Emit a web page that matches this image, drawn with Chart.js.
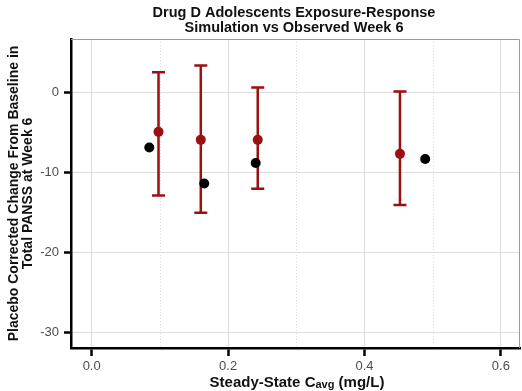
<!DOCTYPE html>
<html>
<head>
<meta charset="utf-8">
<script src="https://cdn.jsdelivr.net/npm/chart.js@4.4.1/dist/chart.umd.min.js"></script>
<style>
  html, body { margin: 0; padding: 0; background: #ffffff; }
  #wrap { width: 522px; height: 391px; position: relative; }
</style>
</head>
<body>
<div id="wrap"><canvas id="c" width="522" height="391"></canvas></div>
<script>
// ---- Data ----
const titleLines = ["Drug D Adolescents Exposure-Response", "Simulation vs Observed Week 6"];
const yTitleLines = ["Placebo Corrected Change From Baseline in", "Total PANSS at Week 6"];
const xTitleMain = "Steady-State C";
const xTitleSub = "avg";
const xTitleUnit = " (mg/L)";

// Simulated (red): median with interval
const simX = [0.098, 0.160, 0.2435, 0.452];
const simMedian = [-4.9, -5.9, -5.9, -7.65];
const simLower = [-12.85, -15.0, -12.0, -14.05];
const simUpper = [2.55, 3.4, 0.65, 0.15];

// Observed (black)
const obsX = [0.0845, 0.165, 0.2405, 0.489];
const obsY = [-6.85, -11.35, -8.8, -8.3];

// Ticks
const xMajorTicks = [0.0, 0.2, 0.4, 0.6];
const xMinorTicks = [0.1, 0.3, 0.5];
const yMajorTicks = [-30, -20, -10, 0];

const RED = '#9b1111';
const FONT = '"Liberation Sans", Arial, sans-serif';

const simPoints = simX.map((x, i) => ({ x: x, y: simMedian[i] }));
const obsPoints = obsX.map((x, i) => ({ x: x, y: obsY[i] }));

const frameAndMinor = {
  id: 'frameAndMinor',
  beforeDatasetsDraw(chart) {
    const { ctx, chartArea: a, scales } = chart;
    ctx.save();
    // minor dotted vertical gridlines
    ctx.strokeStyle = '#dcdcdc';
    ctx.lineWidth = 1;
    ctx.setLineDash([1, 2]);
    xMinorTicks.forEach(v => {
      const px = Math.round(scales.x.getPixelForValue(v)) + 0.5;
      ctx.beginPath(); ctx.moveTo(px, a.top); ctx.lineTo(px, a.bottom); ctx.stroke();
    });
    ctx.setLineDash([]);
    // gray top/right frame
    ctx.strokeStyle = '#9a9a9a';
    ctx.lineWidth = 1;
    ctx.beginPath();
    ctx.moveTo(a.left, a.top + 0.5); ctx.lineTo(a.right - 0.5, a.top + 0.5); ctx.lineTo(a.right - 0.5, a.bottom);
    ctx.stroke();
    // error bars
    ctx.strokeStyle = RED;
    ctx.lineWidth = 2.5;
    simX.forEach((x, i) => {
      const px = scales.x.getPixelForValue(x);
      const pl = scales.y.getPixelForValue(simLower[i]);
      const pu = scales.y.getPixelForValue(simUpper[i]);
      ctx.beginPath();
      ctx.moveTo(px, pu); ctx.lineTo(px, pl);
      ctx.moveTo(px - 6.5, pu); ctx.lineTo(px + 6.5, pu);
      ctx.moveTo(px - 6.5, pl); ctx.lineTo(px + 6.5, pl);
      ctx.stroke();
    });
    ctx.restore();
  },
  afterDraw(chart) {
    const { ctx } = chart;
    ctx.save();
    ctx.fillStyle = '#111';
    ctx.textAlign = 'center';
    ctx.textBaseline = 'middle';
    ctx.font = 'bold 14.5px ' + FONT;
    const cx = 294;
    ctx.fillText(titleLines[0], cx, 13);
    ctx.fillText(titleLines[1], cx, 28);
    // x title with subscript
    const fMain = 'bold 15px ' + FONT;
    const fSub = 'bold 11px ' + FONT;
    ctx.font = fMain; const w1 = ctx.measureText(xTitleMain).width; const w3 = ctx.measureText(xTitleUnit).width;
    ctx.font = fSub; const w2 = ctx.measureText(xTitleSub).width;
    let x0 = 297 - (w1 + w2 + w3) / 2;
    const yT = 383;
    ctx.textAlign = 'left';
    ctx.font = fMain; ctx.fillText(xTitleMain, x0, yT); x0 += w1;
    ctx.font = fSub; ctx.fillText(xTitleSub, x0, yT + 2); x0 += w2;
    ctx.font = fMain; ctx.fillText(xTitleUnit, x0, yT);
    ctx.restore();
  }
};

new Chart(document.getElementById('c'), {
  type: 'scatter',
  data: {
    datasets: [
      {
        label: 'Observed',
        data: obsPoints,
        backgroundColor: '#000000',
        borderColor: '#000000',
        pointRadius: 5,
        pointHoverRadius: 5,
        borderWidth: 0
      },
      {
        label: 'Simulated',
        data: simPoints,
        backgroundColor: RED,
        borderColor: RED,
        pointRadius: 5,
        pointHoverRadius: 5,
        borderWidth: 0
      }
    ]
  },
  options: {
    responsive: false,
    animation: false,
    devicePixelRatio: 1,
    layout: { autoPadding: false, padding: { top: 39, right: 2, left: 0, bottom: 0 } },
    plugins: { legend: { display: false }, title: { display: false }, tooltip: { enabled: false } },
    scales: {
      x: {
        type: 'linear',
        min: -0.0303,
        max: 0.628,
        afterFit(scale) { scale.height = 43; scale.paddingRight = 0; },
        afterBuildTicks(scale) { scale.ticks = xMajorTicks.map(v => ({ value: v })); },
        ticks: {
          includeBounds: false,
          stepSize: 0.2,
          padding: 3,
          color: '#4d4d4d',
          font: { family: FONT, size: 13 },
          callback: v => Number(v).toFixed(1)
        },
        grid: { color: '#dcdcdc', lineWidth: 1, tickColor: '#000000', tickLength: 8, tickWidth: 2.5 },
        border: { display: true, color: '#000000', width: 2.5 }
      },
      y: {
        type: 'linear',
        min: -31.9,
        max: 6.7,
        afterFit(scale) { scale.width = 71; },
        afterBuildTicks(scale) { scale.ticks = yMajorTicks.map(v => ({ value: v })); },
        ticks: {
          includeBounds: false,
          stepSize: 10,
          padding: 5,
          color: '#4d4d4d',
          font: { family: FONT, size: 13 },
          callback: v => String(v)
        },
        grid: { color: '#dcdcdc', lineWidth: 1, tickColor: '#000000', tickLength: 7, tickWidth: 2.5 },
        border: { display: true, color: '#000000', width: 2.5 },
        title: {
          display: true,
          text: yTitleLines,
          color: '#111',
          font: { family: FONT, size: 14, weight: 'bold', lineHeight: 1.0 },
          padding: { top: 7, bottom: 0 }
        }
      }
    }
  },
  plugins: [frameAndMinor]
});
</script>
</body>
</html>
